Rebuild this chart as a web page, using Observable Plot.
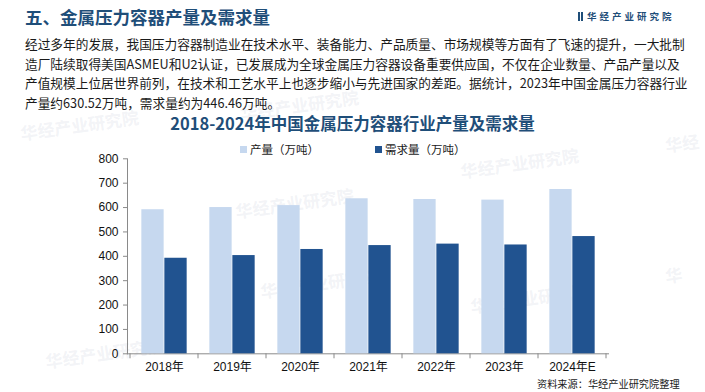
<!DOCTYPE html>
<html>
<head>
<meta charset="utf-8">
<script src="https://cdn.jsdelivr.net/npm/d3@7"></script>
<script src="https://cdn.jsdelivr.net/npm/@observablehq/plot@0.6"></script>
<style>
  html, body { margin: 0; padding: 0; background: #fff; }
  #page { position: relative; width: 705px; height: 392px; overflow: hidden; background: #fff;
    font-family: "Noto Sans CJK SC", "Noto Sans", sans-serif; }
  .abs { position: absolute; white-space: nowrap; }
  #header { left: 25px; top: 4px; font-size: 17.5px; font-weight: bold; color: #1f4e79; line-height: 26px; }
  #logo { left: 578px; top: 9px; font-size: 9.5px; color: #1f4e79; letter-spacing: 3px; line-height: 14px; font-weight: bold; }
  #logo .ic { display: inline-block; width: 2px; height: 9px; background: #1f4e79; margin-right: 1px; vertical-align: -1px; }
  #para { left: 25px; top: 34px; font-size: 12.7px; color: #1a1a1a; line-height: 19.6px; }
  #ctitle { left: 0; width: 705px; top: 111px; text-align: center; font-size: 16.5px; font-weight: bold; color: #1f4e79; line-height: 24px; }
  #legend { left: 0; top: 141px; font-size: 11.5px; color: #1a1a1a; line-height: 16px; }
  .sw { position: absolute; width: 7px; height: 7px; top: 5px; }
  #source { left: 537px; top: 377px; font-size: 10.2px; color: #1a1a1a; line-height: 14px; }
  #chart { position: absolute; left: 0; top: 140px; }
  .wm { position: absolute; white-space: nowrap; color: rgba(180,190,205,0.18); font-weight: bold; font-size: 17px; transform: rotate(-8deg); }
</style>
</head>
<body>
<div id="page">
  <div class="wm" style="left:20px;top:112px;">华经产业研究院</div>
  <div class="wm" style="left:240px;top:92px;">华经产业研究院</div>
  <div class="wm" style="left:235px;top:190px;">华经产业研究院</div>
  <div class="wm" style="left:45px;top:340px;">华经产业研究院</div>
  <div class="wm" style="left:260px;top:270px;">华经产业研究院</div>
  <div class="wm" style="left:470px;top:285px;">华经产业研究院</div>
  <div class="wm" style="left:460px;top:150px;">华经产业研究院</div>
  <div class="wm" style="left:665px;top:130px;">华经</div>
  <div class="wm" style="left:665px;top:262px;">华</div>
  <div id="chart"></div>
  <div id="header" class="abs">五、金属压力容器产量及需求量</div>
  <div id="logo" class="abs"><span class="ic"></span><span class="ic" style="margin-right:4px"></span>华经产业研究院</div>
  <div id="para" class="abs">
    <div>经过多年的发展，我国压力容器制造业在技术水平、装备能力、产品质量、市场规模等方面有了飞速的提升，一大批制</div>
    <div>造厂陆续取得美国ASMEU和U2认证，已发展成为全球金属压力容器设备重要供应国，不仅在企业数量、产品产量以及</div>
    <div>产值规模上位居世界前列，在技术和工艺水平上也逐步缩小与先进国家的差距。据统计，2023年中国金属压力容器行业</div>
    <div>产量约630.52万吨，需求量约为446.46万吨。</div>
  </div>
  <div id="ctitle" class="abs">2018-2024年中国金属压力容器行业产量及需求量</div>
  <div id="legend" class="abs"></div>
  <div id="source" class="abs">资料来源：华经产业研究院整理</div>
</div>
<script>
const years = ["2018年", "2019年", "2020年", "2021年", "2022年", "2023年", "2024年E"];
const production = [591, 600, 608, 636, 633, 630.52, 674];
const demand = [392, 403, 428, 444, 450, 446.46, 481];
const seriesNames = ["产量（万吨）", "需求量（万吨）"];
const seriesColors = ["#c6d8ef", "#215390"];
const yTicks = [0, 100, 200, 300, 400, 500, 600, 700, 800];

const prodData = years.map((y, i) => ({year: y, value: production[i]}));
const demData = years.map((y, i) => ({year: y, value: demand[i]}));

const W = 705, H = 240;
const ml = 127, mr = 97, mt = 18.3, mb = 26.7;
const bandW = (W - ml - mr) / years.length;
const gap = bandW * 0.165;
const barW = (bandW - 2 * gap) / 2;

const chart = Plot.plot({
  width: W,
  height: H,
  marginLeft: ml,
  marginRight: mr,
  marginTop: mt,
  marginBottom: mb,
  style: {fontFamily: '"Liberation Sans", Arial, "Noto Sans CJK SC", sans-serif', fontSize: "12px", color: "#111", background: "transparent"},
  x: {domain: years, padding: 0, label: null, tickSize: 0, tickPadding: 9, line: true},
  y: {domain: [0, 800], ticks: yTicks, tickSize: 4, tickPadding: 5, label: null, line: true},
  marks: [
    Plot.barY(prodData, {x: "year", y: "value", fill: seriesColors[0], insetLeft: gap, insetRight: gap + barW}),
    Plot.barY(demData, {x: "year", y: "value", fill: seriesColors[1], insetLeft: gap + barW, insetRight: gap})
  ]
});

// axis colours
d3.select(chart).selectAll("[aria-label='x-axis tick'], [aria-label='y-axis tick'], [aria-label='x-axis line'], [aria-label='y-axis line'], path, line")
  .filter(function(){ return !this.closest("[aria-label='bar']"); })
  .attr("stroke", "#8a8a8a");

// boundary ticks on x axis, placed via the library's x scale
const xs = chart.scale("x");
const ysc = chart.scale("y");
const y0 = ysc.apply(0);
const bounds = years.map(y => xs.apply(y)).concat([xs.apply(years[years.length - 1]) + xs.bandwidth]);
const g = d3.select(chart).append("g").attr("stroke", "#8a8a8a");
bounds.forEach(bx => {
  g.append("line").attr("x1", bx).attr("x2", bx).attr("y1", y0).attr("y2", y0 + 5);
});

document.getElementById("chart").appendChild(chart);

// legend
const lg = document.getElementById("legend");
const legendPos = [240, 375];
seriesNames.forEach((n, i) => {
  const sw = document.createElement("div");
  sw.className = "sw";
  sw.style.left = legendPos[i] + "px";
  sw.style.background = seriesColors[i];
  lg.appendChild(sw);
  const t = document.createElement("div");
  t.className = "abs";
  t.style.left = (legendPos[i] + 10) + "px";
  t.style.top = "0px";
  t.textContent = n;
  lg.appendChild(t);
});
</script>
</body>
</html>
